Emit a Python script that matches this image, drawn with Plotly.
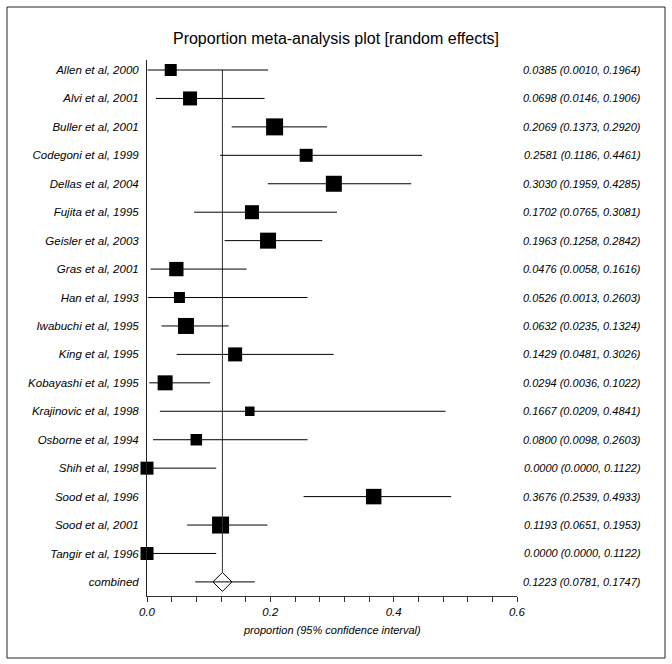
import plotly.graph_objects as go
import math

studies = ["Allen et al, 2000", "Alvi et al, 2001", "Buller et al, 2001", "Codegoni et al, 1999",
           "Dellas et al, 2004", "Fujita et al, 1995", "Geisler et al, 2003", "Gras et al, 2001",
           "Han et al, 1993", "Iwabuchi et al, 1995", "King et al, 1995", "Kobayashi et al, 1995",
           "Krajinovic et al, 1998", "Osborne et al, 1994", "Shih et al, 1998", "Sood et al, 1996",
           "Sood et al, 2001", "Tangir et al, 1996"]
est = [0.0385, 0.0698, 0.2069, 0.2581, 0.3030, 0.1702, 0.1963, 0.0476, 0.0526, 0.0632,
       0.1429, 0.0294, 0.1667, 0.0800, 0.0000, 0.3676, 0.1193, 0.0000]
lo = [0.0010, 0.0146, 0.1373, 0.1186, 0.1959, 0.0765, 0.1258, 0.0058, 0.0013, 0.0235,
      0.0481, 0.0036, 0.0209, 0.0098, 0.0000, 0.2539, 0.0651, 0.0000]
hi = [0.1964, 0.1906, 0.2920, 0.4461, 0.4285, 0.3081, 0.2842, 0.1616, 0.2603, 0.1324,
      0.3026, 0.1022, 0.4841, 0.2603, 0.1122, 0.4933, 0.1953, 0.1122]
# relative study weights (%)
weights = [4.01, 5.46, 8.05, 4.71, 7.13, 5.46, 7.13, 5.69, 3.37, 7.13,
           5.46, 6.27, 2.51, 3.68, 4.71, 6.69, 8.05, 4.71]
combined_label = "combined"
combined_est = 0.1223
combined_lo = 0.0781
combined_hi = 0.1747
x_tick_vals = [0.0, 0.2, 0.4, 0.6]
x_tick_text = ["0.0", "0.2", "0.4", "0.6"]

W, H = 672, 664
L, R, T, B = 147, 517, 60, 596  # plot area in px
row0, row_step = 70, 28.44
y_top = -(row0 - T) / row_step
y_bot = (B - row0) / row_step

def px_x(p):
    return (p - L) / (R - L)

def px_y(p):
    return (B - p) / (B - T)

ys = list(range(len(studies)))
yc = len(studies)
font_fam = "Liberation Sans, Arial, sans-serif"
ink = "#000000"

fig = go.Figure()

# vertical line at combined estimate
diam_half = 9.5
fig.add_shape(type="line", xref="x", yref="y", x0=combined_est, x1=combined_est,
              y0=0, y1=yc - diam_half / row_step, line=dict(color="#333333", width=1))

# CI lines
for i in ys:
    fig.add_shape(type="line", xref="x", yref="y", x0=lo[i], x1=hi[i], y0=i, y1=i,
                  line=dict(color=ink, width=1))
fig.add_shape(type="line", xref="x", yref="y", x0=combined_lo, x1=combined_hi, y0=yc, y1=yc,
              line=dict(color=ink, width=1))

sizes = [math.sqrt(w * 35.89) for w in weights]
fig.add_trace(go.Scatter(x=est, y=ys, mode="markers",
                         marker=dict(symbol="square", size=sizes, color="black", opacity=1,
                                     line=dict(width=0)),
                         cliponaxis=False, showlegend=False))
fig.add_trace(go.Scatter(x=[combined_est], y=[yc], mode="markers",
                         marker=dict(symbol="diamond", size=14.6, color="white", opacity=1,
                                     line=dict(width=1, color="black")),
                         cliponaxis=False, showlegend=False))

# right-side text
for i in ys:
    fig.add_annotation(x=px_x(643), xref="paper", y=i, yref="y", xanchor="right",
                       text=f"{est[i]:.4f} ({lo[i]:.4f}, {hi[i]:.4f})", showarrow=False,
                       font=dict(family=font_fam, size=11, color=ink, style="italic"))
fig.add_annotation(x=px_x(643), xref="paper", y=yc, yref="y", xanchor="right",
                   text=f"{combined_est:.4f} ({combined_lo:.4f}, {combined_hi:.4f})", showarrow=False,
                   font=dict(family=font_fam, size=11, color=ink, style="italic"))

# x axis title
fig.add_annotation(x=0.5, xref="paper", y=px_y(630), yref="paper", yanchor="middle",
                   text="proportion (95% confidence interval)", showarrow=False,
                   font=dict(family=font_fam, size=11, color=ink, style="italic"))

# frame
fig.add_shape(type="rect", xref="paper", yref="paper", x0=px_x(7), x1=px_x(665),
              y0=px_y(658), y1=px_y(7), line=dict(color="#222222", width=1))

fig.update_layout(
    width=W, height=H,
    margin=dict(l=L, r=W - R, t=T, b=H - B, pad=0),
    paper_bgcolor="white", plot_bgcolor="white",
    title=dict(text="Proportion meta-analysis plot [random effects]", x=0.5, xanchor="center",
               y=1 - 38 / H, yanchor="middle", yref="container",
               font=dict(family=font_fam, size=16, color=ink)),
    xaxis=dict(range=[0, 0.6], showgrid=False, zeroline=False, showline=True,
               linecolor="#333333", linewidth=1, ticks="outside", ticklen=5, tickcolor="#333333",
               tickvals=x_tick_vals, ticktext=x_tick_text,
               minor=dict(dtick=0.04, tick0=0, ticks="outside", ticklen=5, tickcolor="#333333"),
               tickfont=dict(family=font_fam, size=11.5, color=ink, style="italic")),
    yaxis=dict(range=[y_bot, y_top], showgrid=False, zeroline=False, showline=True,
               linecolor="#222222", linewidth=1, ticks="",
               tickvals=ys + [yc], ticktext=studies + [combined_label],
               ticklabelstandoff=5,
               tickfont=dict(family=font_fam, size=11.5, color=ink, style="italic")),
)

fig.write_html("out.html", config={"displayModeBar": False},
               post_script="document.body.style.margin='0';document.body.style.padding='0';")
